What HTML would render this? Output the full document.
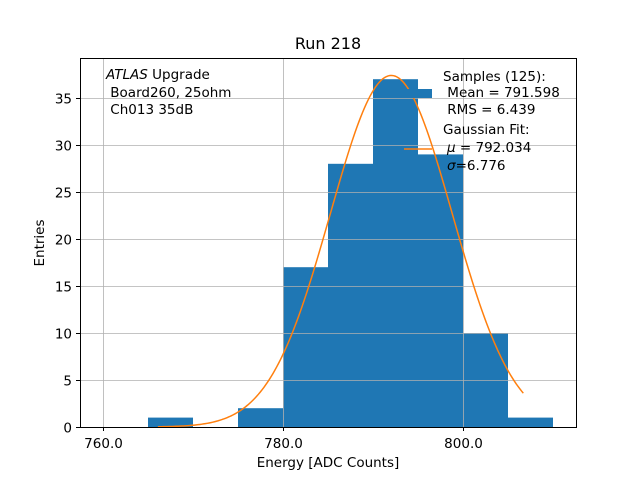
<!DOCTYPE html>
<html><head><meta charset="utf-8"><style>
body{margin:0;background:#fff;}
svg text{font-family:"DejaVu Sans","Liberation Sans",sans-serif;white-space:pre;}
</style></head><body>
<svg id="chart" width="640" height="480">
<rect width="640" height="480" fill="#fff"/>
<g id="bars"></g>
<g id="grid"></g>
<path id="fit" fill="none" stroke="#ff7f0e" stroke-width="1.5"/>
<rect x="80.5" y="58.5" width="496" height="369" fill="none" stroke="#000" stroke-width="1"/>
<g id="ticks"></g>
<text x="328" y="49" font-size="16" text-anchor="middle">Run 218</text>
<text x="328" y="467" font-size="13.5" text-anchor="middle">Energy [ADC Counts]</text>
<text transform="translate(44,243) rotate(-90)" font-size="13.5" text-anchor="middle">Entries</text>
<g font-size="13.5">
<text x="106" y="79"><tspan font-style="italic">ATLAS</tspan> Upgrade</text>
<text x="106" y="97"> Board260, 25ohm</text>
<text x="106" y="114"> Ch013 35dB</text>
</g>
<g font-size="13.5">
<rect x="404" y="89" width="28" height="9" fill="#1f77b4"/>
<text x="443" y="81">Samples (125):</text>
<text x="443" y="97"> Mean = 791.598</text>
<text x="443" y="114"> RMS = 6.439</text>
<line x1="404" y1="149" x2="432" y2="149" stroke="#ff7f0e" stroke-width="1.5"/>
<text x="443" y="134">Gaussian Fit:</text>
<text x="447" y="152"><tspan font-style="italic">μ</tspan> = 792.034</text>
<text x="447" y="170"><tspan font-style="italic">σ</tspan>=6.776</text>
</g>
</svg>
<script>
const binEdges=[765,770,775,780,785,790,795,800,805];
const binCounts=[1,0,2,17,28,37,29,10,1];
const binWidth=5;
const fitParams=[37.4,792.034,6.776];
const fitRange=[766.1,806.7];
const xTicks=[760,780,800];
const xTickLabels=["760.0","780.0","800.0"];
const yTicks=[0,5,10,15,20,25,30,35];
const NS="http://www.w3.org/2000/svg";
const X=v=>103+(v-760)*9;
const Y=v=>427-v*9.4;
function mk(t,a,p){const e=document.createElementNS(NS,t);for(const k in a)e.setAttribute(k,a[k]);p.appendChild(e);return e;}
const bars=document.getElementById('bars');
binEdges.forEach((b,i)=>{if(!binCounts[i])return;
 const r=mk('rect',{x:X(b),y:Y(binCounts[i]),width:X(b+binWidth)-X(b),height:Y(0)-Y(binCounts[i]),fill:'#1f77b4'},bars);
 
 });
const grid=document.getElementById('grid'),ticks=document.getElementById('ticks');
xTicks.forEach((v,i)=>{const x=X(v)+0.5;
 const g=mk('line',{x1:x,x2:x,y1:58,y2:427,stroke:'#b0b0b0','stroke-width':0.8},grid);
 
 
 mk('line',{x1:x,x2:x,y1:427,y2:431,stroke:'#000'},ticks);
 const t=mk('text',{x:x,y:448,'font-size':13.5,'text-anchor':'middle'},ticks);t.textContent=xTickLabels[i];
 
 });
yTicks.forEach(v=>{const y=Y(v)+0.5;
 const g=mk('line',{x1:80,x2:576,y1:y,y2:y,stroke:'#b0b0b0','stroke-width':0.8},grid);
 
 
 mk('line',{x1:76,x2:80,y1:y,y2:y,stroke:'#000'},ticks);
 const t=mk('text',{x:72,y:y+5,'font-size':13.5,'text-anchor':'end'},ticks);t.textContent=v;
 
 });
let d='';const [A,mu,s]=fitParams;
for(let i=0;i<=200;i++){const v=fitRange[0]+(fitRange[1]-fitRange[0])*i/200;
 const f=A*Math.exp(-0.5*((v-mu)/s)**2);d+=(i?'L':'M')+X(v).toFixed(2)+','+Y(f).toFixed(2);}
document.getElementById('fit').setAttribute('d',d);
</script>
</body></html>
